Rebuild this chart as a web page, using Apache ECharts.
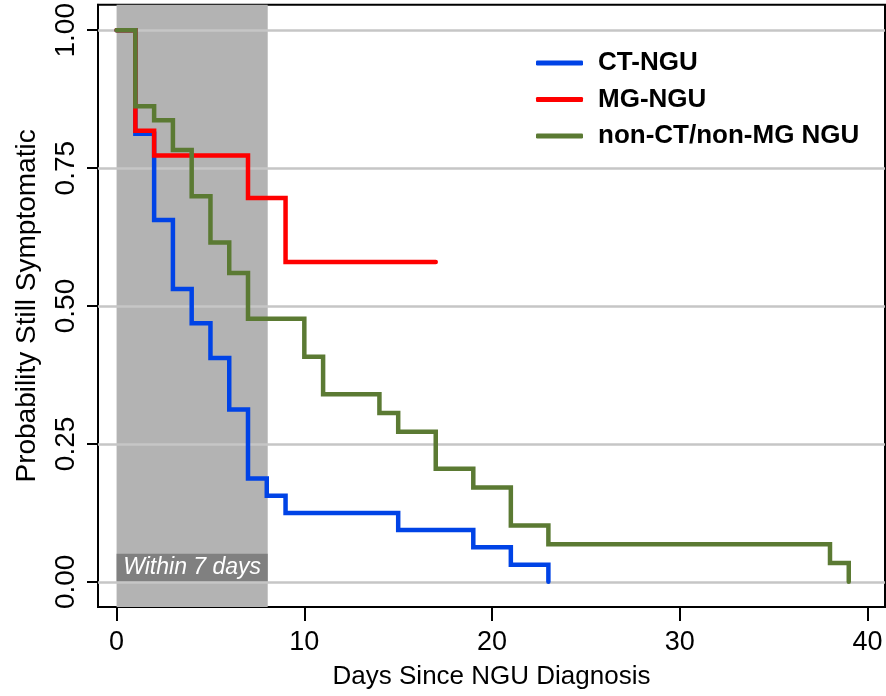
<!DOCTYPE html>
<html>
<head>
<meta charset="utf-8">
<script src="https://cdn.jsdelivr.net/npm/echarts@6/dist/echarts.min.js"></script>
<style>
html,body{margin:0;padding:0;background:#fff;}
#chart{width:886px;height:696px;}
</style>
</head>
<body>
<div id="chart"></div>
<script>
// ---- Data ----
const ctDays   = [0, 1, 2, 3, 4, 5, 6, 7, 8, 9, 15, 19, 21, 23];
const ctProb   = [1, 0.8125, 0.656, 0.531, 0.469, 0.406, 0.3125, 0.1875, 0.156, 0.125, 0.094, 0.0625, 0.031, 0];
const mgDays   = [0, 1, 2, 7, 9, 17];
const mgProb   = [1, 0.818, 0.773, 0.696, 0.580, 0.580];
const otherDays = [0, 1, 2, 3, 4, 5, 6, 7, 10, 11, 14, 15, 17, 19, 21, 23, 38, 39];
const otherProb = [1, 0.862, 0.837, 0.783, 0.699, 0.615, 0.560, 0.477, 0.408, 0.340, 0.306, 0.272, 0.205, 0.171, 0.102, 0.068, 0.034, 0];
const seriesNames = ['CT-NGU', 'MG-NGU', 'non-CT/non-MG NGU'];
const xTicks = [0, 10, 20, 30, 40];
const yTicks = [0, 0.25, 0.5, 0.75, 1];
const yTickLabels = ['0.00', '0.25', '0.50', '0.75', '1.00'];
const windowStart = 0, windowEnd = 8.05;
const windowLabel = 'Within 7 days';
const windowLabelTop = 0.051;

function pairs(xs, ys) { return xs.map((x, i) => [x, ys[i]]); }

const FONT = 'Liberation Sans, Arial, sans-serif';
const colors = ['#0043e6', '#ff0000', '#5b7a33'];

const chart = echarts.init(document.getElementById('chart'), null, {renderer: 'canvas'});
chart.setOption({
  animation: false,
  backgroundColor: '#ffffff',
  grid: {
    left: 98, right: 1, top: 1, bottom: 89,
    show: true, borderColor: '#000', borderWidth: 2, backgroundColor: 'transparent'
  },
  legend: {
    data: seriesNames,
    orient: 'vertical',
    left: 536, top: 50,
    padding: 0,
    itemGap: 10.5,
    itemWidth: 47, itemHeight: 5,
    icon: 'roundRect',
    textStyle: {fontFamily: FONT, fontWeight: 'bold', fontSize: 26, color: '#000', lineHeight: 26, padding: [0, 0, 0, 10]}
  },
  xAxis: {
    type: 'value', min: -0.99, max: 40.93,
    name: 'Days Since NGU Diagnosis', nameLocation: 'middle', nameGap: 57,
    nameTextStyle: {fontFamily: FONT, fontSize: 26, color: '#000'},
    axisLine: {show: true, onZero: false, lineStyle: {color: '#000', width: 2}},
    axisTick: {show: true, length: 14, lineStyle: {color: '#000', width: 2}, customValues: xTicks},
    axisLabel: {fontFamily: FONT, fontSize: 27, color: '#000', margin: 22, customValues: xTicks},
    splitLine: {show: false}
  },
  yAxis: {
    type: 'value', min: -0.0456, max: 1.046,
    name: 'Probability Still Symptomatic', nameLocation: 'middle', nameGap: 57,
    nameTextStyle: {fontFamily: FONT, fontSize: 28, color: '#000'},
    axisLine: {show: true, onZero: false, lineStyle: {color: '#000', width: 2}},
    axisTick: {show: true, length: 11, lineStyle: {color: '#000', width: 2}, customValues: yTicks},
    axisLabel: {
      fontFamily: FONT, fontSize: 28, color: '#000', margin: 18, rotate: 90,
      customValues: yTicks,
      formatter: v => yTickLabels[yTicks.indexOf(v)] !== undefined ? yTickLabels[yTicks.indexOf(v)] : ''
    },
    splitLine: {show: false}
  },
  series: [
    {
      name: '_shade', type: 'line', data: [], z: 1, silent: true,
      markArea: {
        silent: true,
        itemStyle: {color: '#b3b3b3'},
        data: [[{xAxis: windowStart}, {xAxis: windowEnd}]]
      }
    },
    {
      name: '_grid', type: 'line', data: [], z: 2, silent: true,
      markLine: {
        silent: true, symbol: 'none', label: {show: false},
        lineStyle: {color: '#c6c6c6', width: 2.5, type: 'solid'},
        data: yTicks.map(v => ({yAxis: v}))
      }
    },
    {
      name: '_box', type: 'line', data: [], z: 3, silent: true,
      markArea: {
        silent: true,
        itemStyle: {color: '#808080'},
        label: {show: true, position: 'inside', color: '#fff', fontFamily: FONT, fontStyle: 'italic', fontSize: 23},
        data: [[{xAxis: windowStart, yAxis: 0, name: windowLabel}, {xAxis: windowEnd, yAxis: windowLabelTop}]]
      }
    },
    {
      name: seriesNames[0], type: 'line', step: 'end', showSymbol: false, symbol: 'none', z: 5,
      data: pairs(ctDays, ctProb), color: colors[0],
      lineStyle: {width: 4.5, color: colors[0], cap: 'round', join: 'miter'}
    },
    {
      name: seriesNames[1], type: 'line', step: 'end', showSymbol: false, symbol: 'none', z: 6,
      data: pairs(mgDays, mgProb), color: colors[1],
      lineStyle: {width: 4.5, color: colors[1], cap: 'round', join: 'miter'}
    },
    {
      name: seriesNames[2], type: 'line', step: 'end', showSymbol: false, symbol: 'none', z: 7,
      data: pairs(otherDays, otherProb), color: colors[2],
      lineStyle: {width: 4.5, color: colors[2], cap: 'round', join: 'miter'}
    }
  ]
});
</script>
</body>
</html>
